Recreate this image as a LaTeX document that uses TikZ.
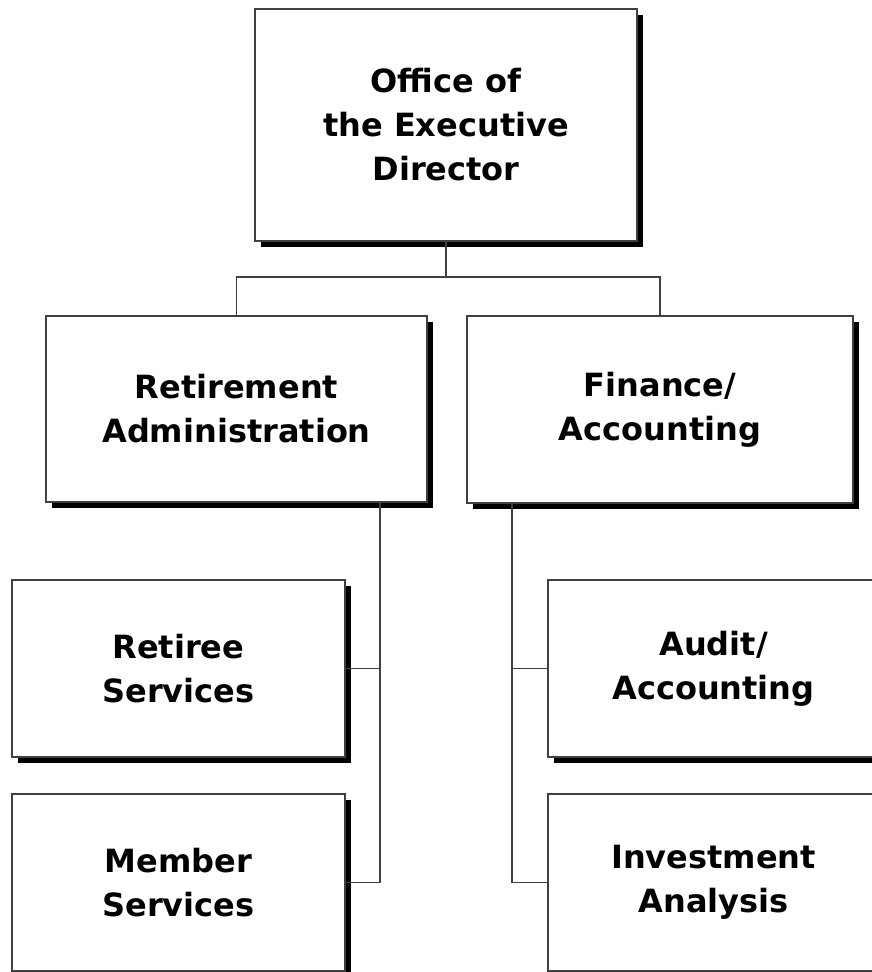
\documentclass[tikz,border=0pt]{standalone}
\usepackage{fontspec}
\setmainfont{DejaVu Sans}
\usetikzlibrary{shadows}
\begin{document}
\begin{tikzpicture}[x=1pt,y=-1pt,
  orgbox/.style={draw=black!75, line width=1.3pt, fill=white, inner sep=0pt,
    align=center, font=\bfseries\fontsize{32}{44}\selectfont,
    drop shadow={shadow xshift=5.5pt, shadow yshift=-5.5pt, fill=black, opacity=1}},
  link/.style={draw=black!75, line width=1.3pt}]
\useasboundingbox (0,0) rectangle (872,972);
\clip (0,0) rectangle (872,972);
\fill[white] (0,0) rectangle (872,972);
\node[orgbox, minimum width=382pt, minimum height=232pt] (top) at (446,125) {Office of\\the Executive\\Director};
\node[orgbox, minimum width=381pt, minimum height=186pt] (ra) at (236.5,409) {Retirement\\Administration};
\node[orgbox, minimum width=386pt, minimum height=187pt] (fa) at (660,409.5) {Finance/\\Accounting};
\node[orgbox, minimum width=333pt, minimum height=177pt] (rs) at (178.5,668.5) {Retiree\\Services};
\node[orgbox, minimum width=333pt, minimum height=177pt] (ms) at (178.5,882.5) {Member\\Services};
\node[orgbox, minimum width=331pt, minimum height=177pt] (aa) at (713.5,668.5) {Audit/\\Accounting};
\node[orgbox, minimum width=331pt, minimum height=177pt] (ia) at (713.5,882.5) {Investment\\Analysis};
\coordinate (j) at (446,277);
\coordinate (lb) at (380,502);
\coordinate (rb) at (512,503);
\draw[link] (top.south) -- (j) -| (ra.north);
\draw[link] (j) -| (fa.north);
\draw[link] (lb) |- (rs.east);
\draw[link] (lb) |- (ms.east);
\draw[link] (rb) |- (aa.west);
\draw[link] (rb) |- (ia.west);
\end{tikzpicture}
\end{document}
